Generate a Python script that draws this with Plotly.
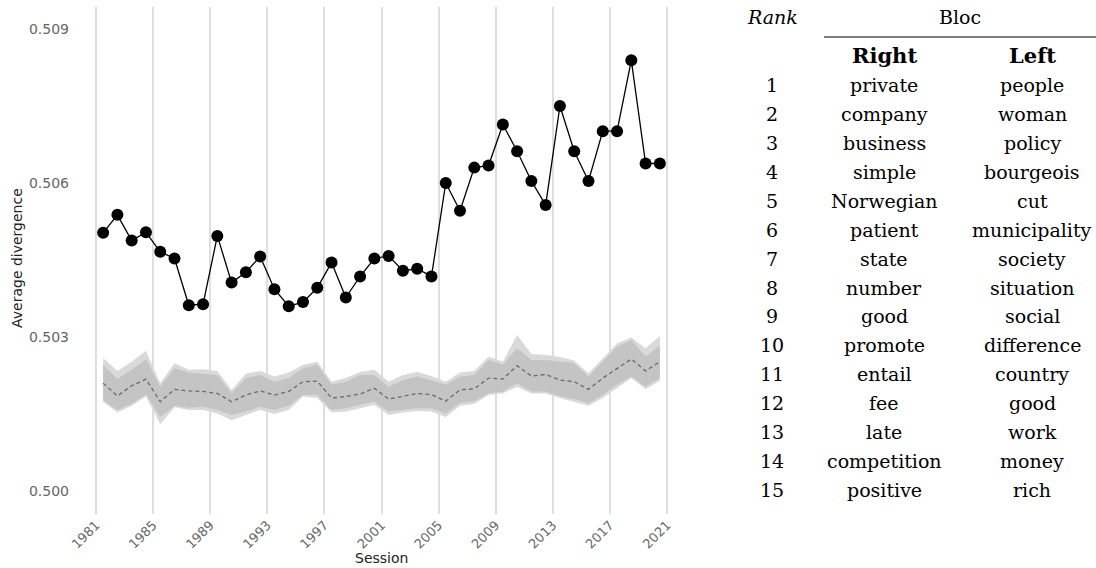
import plotly.graph_objects as go

# Parliamentary sessions (start year of each session)
session_start = list(range(1981, 2021))

# Observed average divergence per session
divergence = [
    0.50503, 0.50538, 0.50488, 0.50504, 0.50466, 0.50453, 0.50362, 0.50364,
    0.50497, 0.50406, 0.50426, 0.50457, 0.50393, 0.50360, 0.50368, 0.50396,
    0.50445, 0.50377, 0.50418, 0.50453, 0.50458, 0.50429, 0.50433, 0.50418,
    0.50600, 0.50546, 0.50630, 0.50634, 0.50714, 0.50662, 0.50604, 0.50557,
    0.50750, 0.50662, 0.50604, 0.50701, 0.50701, 0.50839, 0.50638, 0.50638,
]

# Permutation baseline: median and two interval bands
perm_median = [
    0.50210, 0.50185, 0.50205, 0.50218, 0.50174, 0.50198, 0.50195, 0.50194,
    0.50190, 0.50174, 0.50187, 0.50195, 0.50187, 0.50194, 0.50213, 0.50214,
    0.50181, 0.50184, 0.50189, 0.50200, 0.50179, 0.50185, 0.50190, 0.50188,
    0.50175, 0.50197, 0.50199, 0.50220, 0.50218, 0.50244, 0.50224, 0.50227,
    0.50216, 0.50213, 0.50198, 0.50220, 0.50239, 0.50257, 0.50234, 0.50252,
]
inner_hi = [
    0.50246, 0.50218, 0.50236, 0.50257, 0.50203, 0.50239, 0.50231, 0.50229,
    0.50226, 0.50190, 0.50220, 0.50226, 0.50213, 0.50220, 0.50239, 0.50246,
    0.50207, 0.50213, 0.50226, 0.50226, 0.50203, 0.50216, 0.50223, 0.50216,
    0.50207, 0.50223, 0.50226, 0.50255, 0.50246, 0.50278, 0.50255, 0.50255,
    0.50252, 0.50249, 0.50223, 0.50252, 0.50281, 0.50294, 0.50262, 0.50283,
]
inner_lo = [
    0.50177, 0.50158, 0.50170, 0.50188, 0.50144, 0.50166, 0.50162, 0.50164,
    0.50158, 0.50148, 0.50155, 0.50164, 0.50158, 0.50166, 0.50187, 0.50187,
    0.50158, 0.50161, 0.50168, 0.50174, 0.50155, 0.50158, 0.50161, 0.50161,
    0.50151, 0.50172, 0.50175, 0.50190, 0.50194, 0.50210, 0.50194, 0.50194,
    0.50184, 0.50179, 0.50171, 0.50187, 0.50207, 0.50223, 0.50203, 0.50220,
]
outer_hi = [
    0.50259, 0.50234, 0.50252, 0.50273, 0.50210, 0.50249, 0.50236, 0.50237,
    0.50234, 0.50197, 0.50229, 0.50234, 0.50223, 0.50231, 0.50246, 0.50252,
    0.50213, 0.50220, 0.50232, 0.50236, 0.50213, 0.50226, 0.50232, 0.50224,
    0.50213, 0.50231, 0.50234, 0.50262, 0.50252, 0.50304, 0.50267, 0.50265,
    0.50261, 0.50254, 0.50229, 0.50259, 0.50288, 0.50299, 0.50278, 0.50302,
]
outer_lo = [
    0.50174, 0.50153, 0.50166, 0.50184, 0.50130, 0.50163, 0.50158, 0.50158,
    0.50151, 0.50138, 0.50148, 0.50158, 0.50150, 0.50158, 0.50184, 0.50181,
    0.50153, 0.50155, 0.50161, 0.50168, 0.50148, 0.50153, 0.50156, 0.50155,
    0.50144, 0.50166, 0.50170, 0.50187, 0.50190, 0.50203, 0.50190, 0.50190,
    0.50181, 0.50174, 0.50166, 0.50181, 0.50200, 0.50220, 0.50198, 0.50215,
]

# Axis ticks
x_ticks = [1981, 1985, 1989, 1993, 1997, 2001, 2005, 2009, 2013, 2017, 2021]
y_ticks = [0.500, 0.503, 0.506, 0.509]
y_tick_labels = ["0.500", "0.503", "0.506", "0.509"]

# Most divergent words by bloc
ranks = list(range(1, 16))
right_words = ["private", "company", "business", "simple", "Norwegian", "patient",
               "state", "number", "good", "promote", "entail", "fee", "late",
               "competition", "positive"]
left_words = ["people", "woman", "policy", "bourgeois", "cut", "municipality",
              "society", "situation", "social", "difference", "country", "good",
              "work", "money", "rich"]

# Each session plotted at the middle of its start year
x = [s + 0.5 for s in session_start]

W, H = 1096, 568
ML, MR, MT, MB = 70, 406, 7, 54
PW, PH = W - ML - MR, H - MT - MB


def px(xp):
    return (xp - ML) / PW


def py(yp):
    return (H - MB - yp) / PH


fig = go.Figure()

fig.add_trace(go.Scatter(x=x, y=outer_lo, mode="lines", line=dict(width=0),
                         hoverinfo="skip", showlegend=False))
fig.add_trace(go.Scatter(x=x, y=outer_hi, mode="lines", line=dict(width=0),
                         fill="tonexty", fillcolor="#d9d9d9",
                         hoverinfo="skip", showlegend=False))
fig.add_trace(go.Scatter(x=x, y=inner_lo, mode="lines", line=dict(width=0),
                         hoverinfo="skip", showlegend=False))
fig.add_trace(go.Scatter(x=x, y=inner_hi, mode="lines", line=dict(width=0),
                         fill="tonexty", fillcolor="#c4c4c4",
                         hoverinfo="skip", showlegend=False))
fig.add_trace(go.Scatter(x=x, y=perm_median, mode="lines",
                         line=dict(color="#6a6a6a", width=1.3, dash="4px,3px"),
                         showlegend=False))
fig.add_trace(go.Scatter(x=x, y=divergence, mode="lines+markers",
                         line=dict(color="black", width=1.3),
                         marker=dict(color="black", size=12),
                         showlegend=False))

y_font = dict(family="DejaVu Sans", size=14, color="#666666")
x_font = dict(family="DejaVu Sans", size=13, color="#666666")

fig.update_xaxes(
    range=[1981 - (96 - ML) / 14.275, 2021 + (ML + PW - 667) / 14.275],
    tickvals=x_ticks, tickangle=-45, tickfont=x_font, ticklabelstandoff=0,
    showgrid=True, gridcolor="#dedede", gridwidth=1.6,
    zeroline=False, showline=False, ticks="",
)
fig.update_yaxes(
    range=[0.500 - (MT + PH - 491) / 51330, 0.500 + (491 - MT) / 51330],
    tickvals=y_ticks, ticktext=y_tick_labels, tickfont=y_font,
    showgrid=False, zeroline=False, showline=False, ticks="",
)

annotations = []
title_font = dict(family="DejaVu Sans", size=14, color="#222222")
annotations.append(dict(text="Average divergence", x=px(17), y=py(258), xref="paper", yref="paper",
                        textangle=-90, showarrow=False, font=title_font,
                        xanchor="center", yanchor="middle"))
annotations.append(dict(text="Session", x=px(381), y=py(558), xref="paper", yref="paper",
                        showarrow=False, font=title_font, xanchor="center", yanchor="middle"))

serif = "DejaVu Serif"
tsize = 19
col_rank, col_right, col_left = 772, 884, 1032


def cell(text, xc, yc, **font):
    f = dict(family=serif, size=tsize, color="black")
    f.update(font)
    annotations.append(dict(text=text, x=px(xc), y=py(yc), xref="paper", yref="paper",
                            showarrow=False, font=f, xanchor="center", yanchor="middle"))


cell("<i>Rank</i>", col_rank, 17)
cell("Bloc", 960, 17)
cell("<b>Right</b>", col_right, 55, size=21)
cell("<b>Left</b>", col_left, 55, size=21)
row0, step = 85, 28.93
for i, (r, rw, lw) in enumerate(zip(ranks, right_words, left_words)):
    yc = row0 + i * step
    cell(str(r), col_rank, yc)
    cell(rw, col_right, yc)
    cell(lw, col_left, yc)

fig.update_layout(
    width=W, height=H,
    margin=dict(l=ML, r=MR, t=MT, b=MB, autoexpand=False),
    plot_bgcolor="white", paper_bgcolor="white",
    annotations=annotations,
    shapes=[dict(type="line", xref="paper", yref="paper",
                 x0=px(824), x1=px(1096), y0=py(37), y1=py(37),
                 line=dict(color="black", width=1.2))],
)

fig.write_html("out.html")
